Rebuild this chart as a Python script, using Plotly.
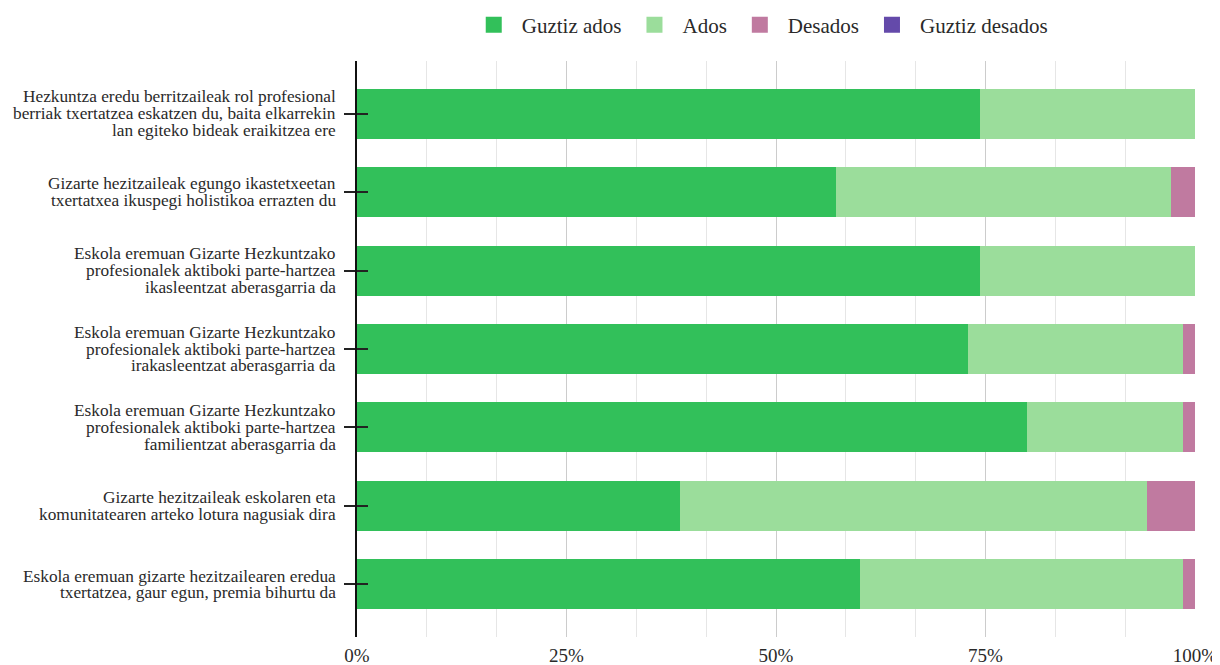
import plotly.graph_objects as go

categories = [
    "Hezkuntza eredu berritzaileak rol profesional<br>berriak txertatzea eskatzen du, baita elkarrekin<br>lan egiteko bideak eraikitzea ere",
    "Gizarte hezitzaileak egungo ikastetxeetan<br>txertatxea ikuspegi holistikoa errazten du",
    "Eskola eremuan Gizarte Hezkuntzako<br>profesionalek aktiboki parte-hartzea<br>ikasleentzat aberasgarria da",
    "Eskola eremuan Gizarte Hezkuntzako<br>profesionalek aktiboki parte-hartzea<br>irakasleentzat aberasgarria da",
    "Eskola eremuan Gizarte Hezkuntzako<br>profesionalek aktiboki parte-hartzea<br>familientzat aberasgarria da",
    "Gizarte hezitzaileak eskolaren eta<br>komunitatearen arteko lotura nagusiak dira",
    "Eskola eremuan gizarte hezitzailearen eredua<br>txertatzea, gaur egun, premia bihurtu da",
]

series_names = ["Guztiz ados", "Ados", "Desados", "Guztiz desados"]
guztiz_ados = [74.29, 57.14, 74.29, 72.86, 80.00, 38.57, 60.00]
ados = [25.71, 40.00, 25.71, 25.71, 18.57, 55.71, 38.57]
desados = [0.00, 2.86, 0.00, 1.43, 1.43, 5.71, 1.43]
guztiz_desados = [0, 0, 0, 0, 0, 0, 0]
series_values = [guztiz_ados, ados, desados, guztiz_desados]

x_ticks = [0, 25, 50, 75, 100]
x_tick_labels = ["0%", "25%", "50%", "75%", "100%"]

colors = ["#32C05A", "#9BDD9B", "#C07AA0", "#644AAA"]
FONT = "Liberation Serif"
TXT = "#2a2a2a"
LABEL_SIZE = 17.3
LINE_STEP = 16.7

# page body has an 8px margin, so the figure is sized to fit the window
W, H = 1212, 657

fig = go.Figure()
for name, vals, col in zip(series_names, series_values, colors):
    fig.add_trace(go.Bar(
        y=categories, x=vals, name=name, orientation="h",
        marker=dict(color=col, line=dict(width=0)),
        showlegend=False, hoverinfo="x+name",
    ))
# legend-only entries with larger square swatches
for name, col in zip(series_names, colors):
    fig.add_trace(go.Scatter(
        x=[None], y=[None], mode="markers", name=name,
        marker=dict(symbol="square", size=16, color=col),
        showlegend=True,
    ))
# empty trace so the overlaid tick axis (crossing ticks) is drawn
fig.add_trace(go.Scatter(x=[None], y=[None], yaxis="y2", mode="markers",
                         showlegend=False, hoverinfo="skip"))

# category labels, one annotation per line for tight line spacing
for cat in categories:
    lines = cat.split("<br>")
    n = len(lines)
    for i, line in enumerate(lines):
        fig.add_annotation(
            xref="paper", yref="y", x=0, y=cat,
            text=line, showarrow=False,
            xanchor="right", yanchor="middle", align="right",
            xshift=-19, yshift=((n - 1) / 2 - i) * LINE_STEP,
            font=dict(family=FONT, size=LABEL_SIZE, color=TXT),
        )

fig.update_layout(
    width=W, height=H,
    barmode="stack", bargap=0.363,
    paper_bgcolor="white", plot_bgcolor="white",
    margin=dict(l=349, r=25, t=53, b=28, autoexpand=False),
    font=dict(family=FONT, color=TXT),
    legend=dict(
        orientation="h", x=0.480, xanchor="center",
        yref="container", y=1 - 17 / H, yanchor="middle",
        font=dict(family=FONT, size=21, color=TXT),
        traceorder="normal", itemwidth=46,
    ),
    xaxis=dict(
        range=[0, 100], tickvals=x_ticks, ticktext=x_tick_labels,
        showgrid=True, gridcolor="#cccccc", gridwidth=1,
        minor=dict(dtick=100 / 12, showgrid=True, gridcolor="#e6e6e6", gridwidth=1),
        zeroline=False, showline=False, ticks="",
        tickfont=dict(family=FONT, size=19, color=TXT),
        ticklabelstandoff=5, automargin=False,
    ),
    yaxis=dict(
        type="category", categoryorder="array", categoryarray=categories,
        range=[6.67, -0.67],
        showgrid=False, zeroline=False,
        showline=True, linecolor="#111111", linewidth=2,
        ticks="outside", ticklen=11, tickwidth=1.5, tickcolor="#222222",
        showticklabels=False, automargin=False,
    ),
    yaxis2=dict(
        overlaying="y", anchor="x", side="left",
        range=[6.67, -0.67], tickvals=list(range(len(categories))),
        ticktext=[""] * len(categories),
        ticks="inside", ticklen=11, tickwidth=1.5, tickcolor="#222222",
        showgrid=False, zeroline=False, showline=False,
        layer="above traces", automargin=False,
    ),
)

fig.write_html("out.html")
